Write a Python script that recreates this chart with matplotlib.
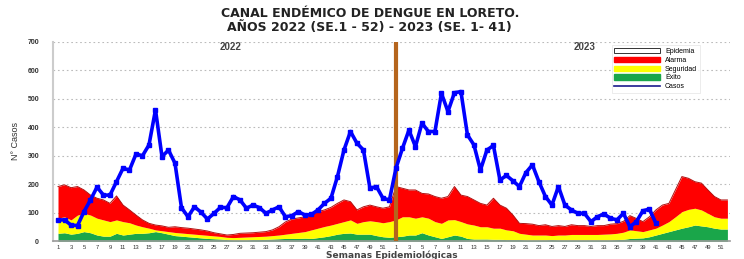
import matplotlib
matplotlib.use("Agg")
import matplotlib.pyplot as plt
import numpy as np
from matplotlib.patches import Patch
from matplotlib.lines import Line2D

plt.rcParams['font.family'] = ['Liberation Sans', 'DejaVu Sans']

weeks = list(range(1, 53))
tick_labels = [str(w) for w in weeks[::2]]

cases_2022 = [75, 75, 57, 55, 104, 145, 190, 162, 162, 209, 256, 250, 306, 300, 338, 461,
              297, 320, 274, 118, 86, 121, 102, 78, 98, 119, 118, 157, 145, 116, 127, 118,
              98, 110, 121, 86, 90, 104, 92, 94, 110, 133, 151, 227, 320, 385, 344, 320,
              186, 192, 151, 145]
cases_2023 = [256, 326, 390, 332, 414, 385, 385, 519, 455, 521, 525, 373, 338, 250, 320, 336,
              215, 231, 212, 192, 241, 268, 209, 157, 127, 192, 127, 110, 98, 98, 69, 86,
              96, 81, 75, 98, 51, 69, 107, 113, 63]

alarma_2022 = [192, 198, 188, 192, 180, 162, 151, 145, 133, 159, 127, 110, 92, 75, 63, 57,
               54, 49, 51, 48, 46, 43, 40, 36, 30, 26, 22, 24, 28, 29, 30, 32,
               34, 40, 51, 68, 78, 82, 86, 95, 104, 110, 119, 133, 145, 139, 110, 121,
               127, 121, 116, 121]
seguridad_2022 = [81, 86, 75, 92, 98, 92, 81, 75, 69, 75, 69, 65, 57, 51, 46, 40,
                  37, 34, 31, 29, 27, 25, 23, 21, 19, 17, 14, 13, 14, 15, 16, 17,
                  18, 20, 22, 25, 28, 31, 34, 40, 46, 52, 57, 63, 69, 75, 63, 69,
                  72, 69, 65, 69]
exito_2022 = [28, 30, 25, 28, 34, 30, 22, 18, 18, 28, 22, 25, 28, 28, 30, 34,
              30, 25, 20, 18, 16, 14, 12, 10, 9, 8, 6, 5, 5, 5, 6, 6,
              7, 8, 9, 10, 10, 10, 11, 10, 13, 16, 20, 25, 28, 29, 25, 25,
              25, 20, 16, 14]

alarma_2023 = [192, 186, 180, 180, 168, 166, 157, 151, 157, 192, 162, 157, 145, 133, 127, 151,
               127, 116, 92, 63, 62, 60, 55, 58, 52, 55, 52, 58, 55, 55, 52, 55,
               55, 60, 62, 70, 90, 80, 69, 86, 110, 127, 133, 180, 227, 221, 209, 204,
               180, 157, 145, 145]
seguridad_2023 = [75, 86, 86, 81, 86, 81, 69, 63, 75, 76, 69, 61, 57, 51, 51, 46,
                  46, 40, 37, 28, 25, 22, 22, 22, 20, 22, 22, 24, 24, 24, 24, 24,
                  25, 26, 28, 32, 40, 37, 34, 40, 46, 57, 69, 86, 104, 112, 116, 110,
                  98, 86, 81, 81]
exito_2023 = [16, 18, 22, 22, 30, 22, 16, 10, 16, 22, 18, 10, 8, 8, 8, 7,
              7, 6, 6, 6, 5, 5, 5, 5, 6, 5, 5, 5, 5, 5, 5, 5,
              5, 5, 6, 7, 10, 11, 12, 16, 22, 28, 34, 40, 46, 51, 57, 54,
              51, 46, 43, 43]

fig = plt.figure(figsize=(7.44, 2.59), dpi=100)
ax = fig.add_axes([53/744, 1-241.3/259, 677/744, 199.6/259])

x = np.arange(104)
alarma = np.array(alarma_2022 + alarma_2023)
seg = np.array(seguridad_2022 + seguridad_2023)
exi = np.array(exito_2022 + exito_2023)

RED = '#ff0000'
YEL = '#ffff00'
GRN = '#1aa64a'
BLUE = '#0000ff'

ax.fill_between(x, 0, exi, color=GRN, lw=0, zorder=2)
ax.fill_between(x, exi, seg, color=YEL, lw=0, zorder=2)
ax.fill_between(x, seg, alarma, color=RED, lw=0, zorder=2)
ax.plot(x, alarma, color='#b01010', lw=0.7, zorder=3)

cases = cases_2022 + cases_2023
ax.plot(np.arange(len(cases)), cases, color=BLUE, lw=2.6, marker='s', ms=2.8,
        mec=BLUE, mfc=BLUE, zorder=5)

ax.axvline(52, color='#b5651d', lw=3, zorder=4)

ax.set_ylim(0, 700)
ax.set_xlim(-0.77, 103.4)
ax.set_yticks(range(0, 701, 100))
ax.set_yticklabels([str(v) for v in range(0, 701, 100)], fontsize=5, color='#333333',
                   fontweight='bold')
ax.yaxis.grid(True, linestyle=(0, (1.5, 2.5)), color='#bbbbbb', lw=0.8)
ax.set_axisbelow(True)

xt = list(range(0, 52, 2)) + list(range(52, 104, 2))
ax.set_xticks(xt)
ax.set_xticklabels(tick_labels + tick_labels, fontsize=4.2, color='#333333')
ax.tick_params(axis='both', length=0)
ax.tick_params(axis='y', pad=10)
ax.tick_params(axis='x', pad=3)

for s in ['top', 'right']:
    ax.spines[s].set_visible(False)
ax.spines['left'].set_color('#cccccc')
ax.spines['left'].set_linewidth(1.5)
ax.spines['bottom'].set_color('#999999')
ax.spines['bottom'].set_linewidth(1.2)

ax.set_ylabel('N° Casos', fontsize=6.5, color='#333333', labelpad=5)
ax.set_xlabel('Semanas Epidemiológicas', fontsize=6.5, color='#444444', labelpad=0,
              fontweight='bold', family='DejaVu Sans')

fig.text(0.497, 0.948, 'CANAL ENDÉMICO DE DENGUE EN LORETO.', ha='center', va='center',
         fontsize=9, fontweight='bold', color='#222222', family='DejaVu Sans')
fig.text(0.497, 0.893, 'AÑOS 2022 (SE.1 - 52) - 2023 (SE. 1- 41)', ha='center', va='center',
         fontsize=9, fontweight='bold', color='#222222', family='DejaVu Sans')

ax.text(26.5, 680, '2022', ha='center', va='center', fontsize=7, fontweight='bold',
        color='#444444')
ax.text(81, 680, '2023', ha='center', va='center', fontsize=7, fontweight='bold',
        color='#444444')

handles = [Patch(facecolor='white', edgecolor='#333333', lw=0.7, label='Epidemia'),
           Patch(facecolor=RED, edgecolor=RED, label='Alarma'),
           Patch(facecolor=YEL, edgecolor=YEL, label='Seguridad'),
           Patch(facecolor=GRN, edgecolor=GRN, label='Éxito'),
           Line2D([0], [0], color='#1a1a8c', lw=1.2, label='Casos')]
leg = ax.legend(handles=handles, loc='upper left', bbox_to_anchor=(0.82, 1.0),
                fontsize=5, handlelength=6.5, handleheight=0.8, labelspacing=0.25,
                borderpad=0.4, frameon=True, fancybox=False)
leg.get_frame().set_edgecolor('#dddddd')
leg.get_frame().set_linewidth(0.5)
leg.set_zorder(6)

fig.savefig('out.png', dpi=100)
